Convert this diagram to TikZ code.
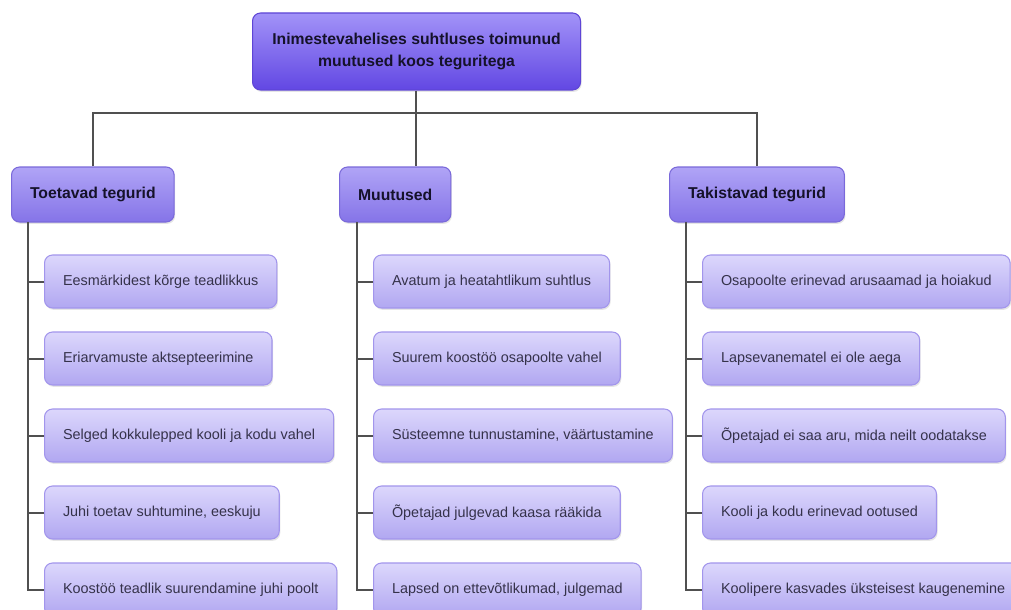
\documentclass[tikz,border=0pt]{standalone}
\usepackage{fontspec}
\setmainfont{Liberation Sans}
\usetikzlibrary{shadows}
\definecolor{linec}{HTML}{505050}
\definecolor{topT}{HTML}{A293F8}
\definecolor{topB}{HTML}{6247E3}
\definecolor{hdT}{HTML}{B0A4F6}
\definecolor{hdB}{HTML}{8574E8}
\definecolor{lfT}{HTML}{DCD7FC}
\definecolor{lfB}{HTML}{B1A7F1}
\definecolor{bordtop}{HTML}{5E45D6}
\definecolor{bordhd}{HTML}{7A69DA}
\definecolor{bordlf}{HTML}{A295EC}
\definecolor{txtd}{HTML}{35324A}
\definecolor{txth}{HTML}{15122A}
\begin{document}
\begin{tikzpicture}[x=0.75pt,y=-0.75pt,
  boxbase/.style={rectangle, rounded corners=6pt, line width=0.8pt,
    drop shadow={opacity=0.2, shadow xshift=0.8pt, shadow yshift=-1.4pt}},
  topbox/.style={boxbase, draw=bordtop, top color=topT, bottom color=topB, anchor=west,
    minimum height=77*0.75pt, minimum width=328*0.75pt, align=center, text=txth,
    font=\fontsize{11.8}{16}\selectfont\bfseries},
  headbox/.style={boxbase, draw=bordhd, top color=hdT, bottom color=hdB, anchor=west,
    minimum height=55*0.75pt, inner xsep=18.5*0.75pt, text=txth,
    font=\fontsize{11.8}{14}\selectfont\bfseries},
  leafbox/.style={boxbase, draw=bordlf, top color=lfT, bottom color=lfB, anchor=west,
    minimum height=53*0.75pt, inner xsep=18.5*0.75pt, text=txtd,
    font=\fontsize{10.8}{13}\selectfont},
  barline/.style={draw=linec, line width=2.6pt*0.75},
  link/.style={draw=linec, line width=2pt*0.75}
]
\useasboundingbox[fill=white] (0,0) rectangle (1011,610);

% top
\node[topbox] (top) at (252,51.5) {Inimestevahelises suhtluses toimunud\\muutused koos teguritega};

% headers
\node[headbox] (tog) at (11,194.5) {Toetavad tegurid};
\node[headbox] (mid) at (339,194.5) {Muutused};
\node[headbox] (tak) at (669,194.5) {Takistavad tegurid};

% leaves column 1
\node[leafbox] (a1) at (44,281.5) {Eesmärkidest kõrge teadlikkus};
\node[leafbox] (a2) at (44,358.5) {Eriarvamuste aktsepteerimine};
\node[leafbox] (a3) at (44,435.5) {Selged kokkulepped kooli ja kodu vahel};
\node[leafbox] (a4) at (44,512.5) {Juhi toetav suhtumine, eeskuju};
\node[leafbox] (a5) at (44,589.5) {Koostöö teadlik suurendamine juhi poolt};

% leaves column 2
\node[leafbox] (b1) at (373,281.5) {Avatum ja heatahtlikum suhtlus};
\node[leafbox] (b2) at (373,358.5) {Suurem koostöö osapoolte vahel};
\node[leafbox] (b3) at (373,435.5) {Süsteemne tunnustamine, väärtustamine};
\node[leafbox] (b4) at (373,512.5) {Õpetajad julgevad kaasa rääkida};
\node[leafbox] (b5) at (373,589.5) {Lapsed on ettevõtlikumad, julgemad};

% leaves column 3
\node[leafbox] (c1) at (702,281.5) {Osapoolte erinevad arusaamad ja hoiakud};
\node[leafbox] (c2) at (702,358.5) {Lapsevanematel ei ole aega};
\node[leafbox] (c3) at (702,435.5) {Õpetajad ei saa aru, mida neilt oodatakse};
\node[leafbox] (c4) at (702,512.5) {Kooli ja kodu erinevad ootused};
\node[leafbox] (c5) at (702,589.5) {Koolipere kasvades üksteisest kaugenemine};

% top connectors
\coordinate (j) at (416,113);
\draw[barline] (top.south -| j) -- (j);
\draw[barline] (tog.north) |- (j) -| (tak.north);
\draw[link] (j) -- (j |- mid.north);

% spines
\coordinate (s1) at (28,222);
\coordinate (s2) at (357,222);
\coordinate (s3) at (686,222);
\draw[link] (s1) |- (a5.west);
\draw[link] (s2) |- (b5.west);
\draw[link] (s3) |- (c5.west);
\foreach \n in {a1,a2,a3,a4}{\draw[link] (\n.west) -- (\n.west -| s1);}
\foreach \n in {b1,b2,b3,b4}{\draw[link] (\n.west) -- (\n.west -| s2);}
\foreach \n in {c1,c2,c3,c4}{\draw[link] (\n.west) -- (\n.west -| s3);}
\end{tikzpicture}
\end{document}
